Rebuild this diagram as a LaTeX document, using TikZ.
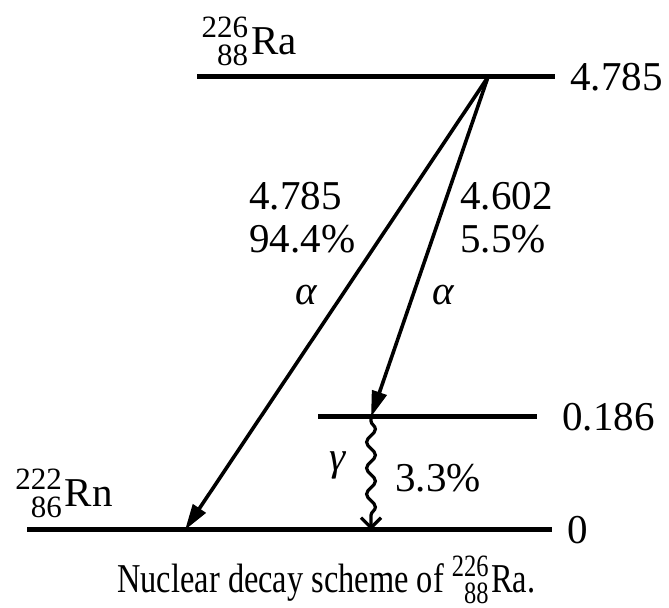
\documentclass[tikz,border=0pt]{standalone}
\usepackage{fontspec}
\setmainfont{Liberation Serif}
\usetikzlibrary{arrows.meta,decorations.pathmorphing}
% nuclide symbol with mass number over atomic number, both right aligned
\newcommand{\nuc}[3]{\begingroup\fontsize{15.5}{15}\selectfont
  \setbox0\hbox{#1}\setbox1\hbox{#2}%
  \dimen0=\ifdim\wd0>\wd1 \wd0\else\wd1\fi
  \makebox[\dimen0][r]{\raisebox{8.5pt}{#1}}\llap{\raisebox{-5.5pt}{#2}}\kern1.5pt\endgroup#3}
\tikzset{
  level/.style={line width=2.5pt},
  alphaarrow/.style={line width=1.8pt,-{Triangle[length=13pt,width=7.5pt]}},
  gammaarrow/.style={line width=1.6pt,decorate,
    decoration={snake,amplitude=2.2pt,segment length=13pt,pre length=2pt,post length=7pt},
    -{Straight Barb[length=5pt,width=10pt]}},
  lbl/.style={inner sep=0pt,font=\fontsize{20.5}{24}\selectfont}
}

\begin{document}
\begin{tikzpicture}[x=0.5pt,y=-0.5pt]
  \useasboundingbox (0,0) rectangle (669,608);
  % energy levels
  \coordinate (ra-l) at (197,77);
  \coordinate (ra-r) at (555,77);
  \coordinate (ex-l) at (318,417);
  \coordinate (ex-r) at (537,417);
  \coordinate (gs-l) at (27,530);
  \coordinate (gs-r) at (552,530);
  \coordinate (src) at (488,77);
  \coordinate (rn-hit) at (185,530);
  \coordinate (ex-hit) at (371,417);
  \coordinate (gs-hit) at (371,530);
  \draw[level] (ra-l) -- (ra-r);
  \draw[level] (ex-l) -- (ex-r);
  \draw[level] (gs-l) -- (gs-r);
  \node[lbl,anchor=west] (e-ra) at (570,77) {4.785};
  \node[lbl,anchor=west] (e-ex) at (562,417) {0.186};
  \node[lbl,anchor=west] (e-gs) at (567,530) {0};
  \node[lbl,anchor=base east] (ra) at (297,55) {\nuc{226}{88}{Ra}};
  \node[lbl,anchor=base east] (rn) at (113,507) {\nuc{222}{86}{Rn}};
  % transitions
  \draw[alphaarrow] (src) -- (rn-hit);
  \draw[alphaarrow] (src) -- (ex-hit);
  \draw[gammaarrow] (ex-hit) -- (gs-hit);
  \node[lbl,anchor=base west] (a1-e) at (249,210) {4.785};
  \node[lbl,anchor=base west] (a1-p) at (249,253) {94.4\%};
  \node[lbl,anchor=base] (a1) at (306,305) {\itshape α};
  \node[lbl,anchor=base west] (a2-e) at (460,210) {4.602};
  \node[lbl,anchor=base west] (a2-p) at (460,253) {5.5\%};
  \node[lbl,anchor=base] (a2) at (443,305) {\itshape α};
  \node[lbl,anchor=base] (g) at (338,471) {\itshape γ};
  \node[lbl,anchor=base west] (g-p) at (395,492) {3.3\%};
  \node[lbl,anchor=base west] (cap) at (117,593)
    {\scalebox{0.79}[1]{Nuclear decay scheme of \nuc{226}{88}{Ra}.}};
\end{tikzpicture}
\end{document}
